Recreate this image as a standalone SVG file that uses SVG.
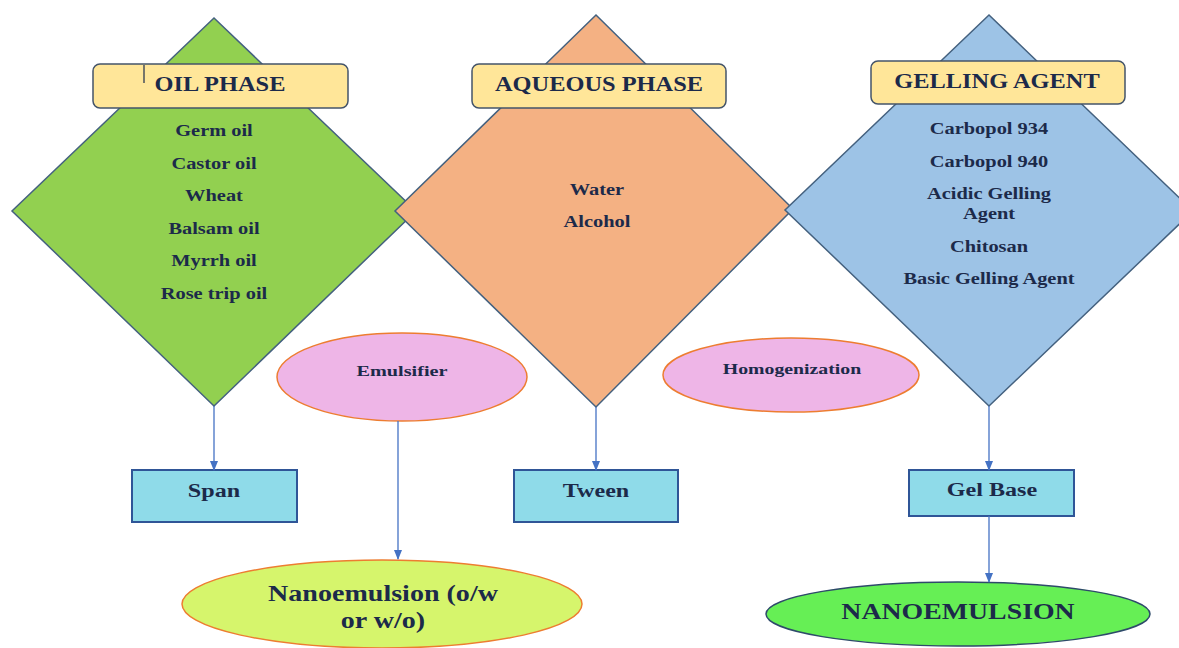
<svg xmlns="http://www.w3.org/2000/svg" width="1179" height="648" viewBox="0 0 1179 648">
<style>
.dia{stroke:#44617f;stroke-width:1.5}
.title{fill:#ffe699;stroke:#44546a;stroke-width:1.5}
.box{fill:#8fdbe9;stroke:#2f5597;stroke-width:2}
.pink{fill:#eeb5e7;stroke:#ed7d31;stroke-width:1.5}
.t{font-family:"Liberation Serif",serif;font-weight:bold;fill:#1c2a4a;text-anchor:middle}
.h{font-size:20px}
.i{font-size:17px}
.s{font-size:15px}
.b{font-size:19px}
.l{font-size:23px}
.c{stroke:#4472c4;stroke-width:1.3;fill:none;marker-end:url(#ah)}
</style>
<defs>
<marker id="ah" markerWidth="10" markerHeight="8" refX="9" refY="4" orient="auto" markerUnits="userSpaceOnUse">
<path d="M0,0 L10,4 L0,8 z" fill="#4472c4"/>
</marker>
</defs>
<rect width="1179" height="648" fill="#ffffff"/>
<g id="oil-phase">
<polygon class="dia" points="214,18 416,211 214,406 12,211" fill="#92d050"/>
<rect class="title" x="93" y="64" width="255" height="44" rx="7"/>
<line x1="144" y1="65" x2="144" y2="83" stroke="#1c2a4a" stroke-width="1.2"/>
<text class="t h" transform="translate(220 91) scale(1.22 1)">OIL PHASE</text>
<text class="t i" transform="translate(214 136) scale(1.2 1)">Germ oil</text>
<text class="t i" transform="translate(214 169) scale(1.2 1)">Castor oil</text>
<text class="t i" transform="translate(214 201) scale(1.2 1)">Wheat</text>
<text class="t i" transform="translate(214 234) scale(1.2 1)">Balsam oil</text>
<text class="t i" transform="translate(214 266) scale(1.2 1)">Myrrh oil</text>
<text class="t i" transform="translate(214 299) scale(1.2 1)">Rose trip oil</text>
</g>
<g id="aqueous-phase">
<polygon class="dia" points="596,15 793,209 596,407 395,211" fill="#f4b183"/>
<rect class="title" x="472" y="64" width="254" height="44" rx="7"/>
<text class="t h" transform="translate(599 91) scale(1.22 1)">AQUEOUS PHASE</text>
<text class="t i" transform="translate(597 195) scale(1.2 1)">Water</text>
<text class="t i" transform="translate(597 227) scale(1.2 1)">Alcohol</text>
</g>
<g id="gelling-agent">
<polygon class="dia" points="989,15 1193,211 989,406 785,210" fill="#9dc3e6"/>
<rect class="title" x="871" y="61" width="254" height="43" rx="7"/>
<text class="t h" transform="translate(997 88) scale(1.22 1)">GELLING AGENT</text>
<text class="t i" transform="translate(989 134) scale(1.2 1)">Carbopol 934</text>
<text class="t i" transform="translate(989 167) scale(1.2 1)">Carbopol 940</text>
<text class="t i" transform="translate(989 199) scale(1.2 1)">Acidic Gelling</text>
<text class="t i" transform="translate(989 219) scale(1.2 1)">Agent</text>
<text class="t i" transform="translate(989 252) scale(1.2 1)">Chitosan</text>
<text class="t i" transform="translate(989 284) scale(1.2 1)">Basic Gelling Agent</text>
</g>
<g id="emulsifier">
<ellipse class="pink" cx="402" cy="377" rx="125" ry="44"/>
<text class="t s" transform="translate(402 376) scale(1.35 1)">Emulsifier</text>
</g>
<g id="homogenization">
<ellipse class="pink" cx="791" cy="375" rx="128" ry="37"/>
<text class="t s" transform="translate(792 374) scale(1.32 1)">Homogenization</text>
</g>
<g id="span">
<rect class="box" x="132" y="470" width="165" height="52"/>
<text class="t b" transform="translate(214 497) scale(1.27 1)">Span</text>
</g>
<g id="tween">
<rect class="box" x="514" y="470" width="164" height="52"/>
<text class="t b" transform="translate(596 497) scale(1.27 1)">Tween</text>
</g>
<g id="gel-base">
<rect class="box" x="909" y="470" width="165" height="46"/>
<text class="t b" transform="translate(992 496) scale(1.27 1)">Gel Base</text>
</g>
<g id="nanoemulsion-ow">
<ellipse cx="382" cy="604" rx="200" ry="44" fill="#d6f56c" stroke="#ed7d31" stroke-width="1.5"/>
<text class="t l" transform="translate(383 601) scale(1.22 1)">Nanoemulsion (o/w</text>
<text class="t l" transform="translate(383 628) scale(1.22 1)">or w/o)</text>
</g>
<g id="nanoemulsion">
<ellipse cx="958" cy="614" rx="192" ry="32" fill="#66ef55" stroke="#2e4a6a" stroke-width="1.5"/>
<text class="t l" transform="translate(958 619) scale(1.21 1)">NANOEMULSION</text>
</g>
<g id="connectors">
<line class="c" x1="214" y1="406" x2="214" y2="470"/>
<line class="c" x1="398" y1="421" x2="398" y2="559"/>
<line class="c" x1="596" y1="407" x2="596" y2="470"/>
<line class="c" x1="989" y1="406" x2="989" y2="470"/>
<line class="c" x1="989" y1="516" x2="989" y2="582"/>
</g>
</svg>
